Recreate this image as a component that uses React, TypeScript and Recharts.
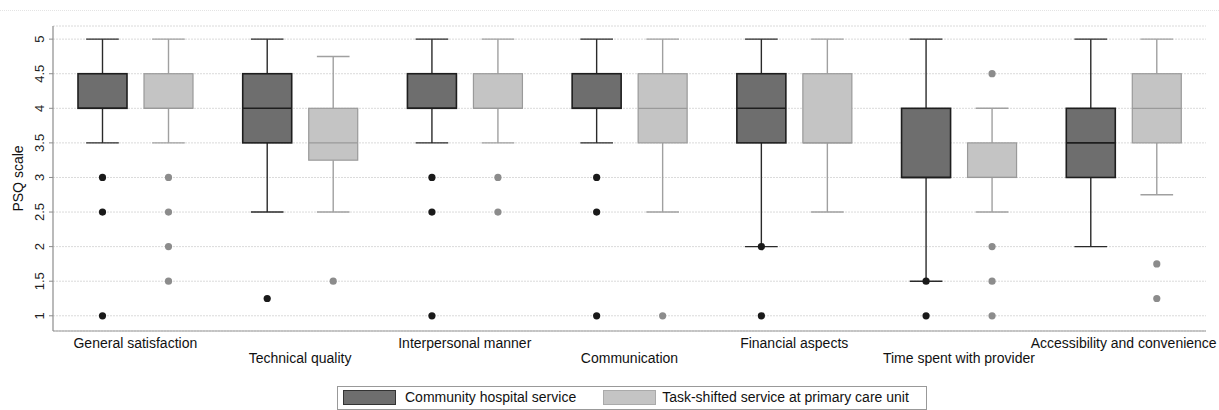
import React from "react";
import { ComposedChart, Bar, XAxis, YAxis, CartesianGrid, Legend } from "recharts";

const categories = [
  "General satisfaction",
  "Technical quality",
  "Interpersonal manner",
  "Communication",
  "Financial aspects",
  "Time spent with provider",
  "Accessibility and convenience",
];

// Community hospital service
const hospitalMin = [3.5, 2.5, 3.5, 3.5, 2, 1.5, 2];
const hospitalQ1 = [4, 3.5, 4, 4, 3.5, 3, 3];
const hospitalMedian = [4, 4, 4, 4, 4, 3, 3.5];
const hospitalQ3 = [4.5, 4.5, 4.5, 4.5, 4.5, 4, 4];
const hospitalMax = [5, 5, 5, 5, 5, 5, 5];
const hospitalOutliers = [[3, 2.5, 1], [1.25], [3, 2.5, 1], [3, 2.5, 1], [2, 1], [1.5, 1], []];

// Task-shifted service at primary care unit
const primaryMin = [3.5, 2.5, 3.5, 2.5, 2.5, 2.5, 2.75];
const primaryQ1 = [4, 3.25, 4, 3.5, 3.5, 3, 3.5];
const primaryMedian = [4, 3.5, 4, 4, 3.5, 3, 4];
const primaryQ3 = [4.5, 4, 4.5, 4.5, 4.5, 3.5, 4.5];
const primaryMax = [5, 4.75, 5, 5, 5, 4, 5];
const primaryOutliers = [[3, 2.5, 2, 1.5], [1.5], [3, 2.5], [1], [], [4.5, 2, 1.5, 1], [1.75, 1.25]];

const yTicks = [1, 1.5, 2, 2.5, 3, 3.5, 4, 4.5, 5];

const FONT = '"Liberation Sans", Arial, sans-serif';

const data = categories.map((name, i) => ({
  name,
  hospital: [hospitalMin[i], hospitalMax[i]],
  hospitalStats: {
    min: hospitalMin[i],
    q1: hospitalQ1[i],
    median: hospitalMedian[i],
    q3: hospitalQ3[i],
    max: hospitalMax[i],
    outliers: hospitalOutliers[i],
  },
  primary: [primaryMin[i], primaryMax[i]],
  primaryStats: {
    min: primaryMin[i],
    q1: primaryQ1[i],
    median: primaryMedian[i],
    q3: primaryQ3[i],
    max: primaryMax[i],
    outliers: primaryOutliers[i],
  },
}));

const styles = {
  hospital: { fill: "#6e6e6e", box: "#1e1e1e", whisker: "#2a2a2a", dot: "#1a1a1a", boxWidth: 1.6 },
  primary: { fill: "#c4c4c4", box: "#9a9a9a", whisker: "#a0a0a0", dot: "#8c8c8c", boxWidth: 1.2 },
};

function makeBoxShape(key: "hospital" | "primary") {
  const st = styles[key];
  return (props: any) => {
    const { x, y, width, height, payload } = props;
    const s = payload[key + "Stats"];
    const per = height / (s.max - s.min);
    const toY = (v: number) => y + (s.max - v) * per;
    const cx = x + width / 2;
    const cap = width / 3;
    return (
      <g>
        <line x1={cx} x2={cx} y1={toY(s.max)} y2={toY(s.q3)} stroke={st.whisker} strokeWidth={1.4} />
        <line x1={cx} x2={cx} y1={toY(s.q1)} y2={toY(s.min)} stroke={st.whisker} strokeWidth={1.4} />
        <line x1={cx - cap} x2={cx + cap} y1={toY(s.max)} y2={toY(s.max)} stroke={st.whisker} strokeWidth={1.4} />
        <line x1={cx - cap} x2={cx + cap} y1={toY(s.min)} y2={toY(s.min)} stroke={st.whisker} strokeWidth={1.4} />
        <rect
          x={x}
          y={toY(s.q3)}
          width={width}
          height={toY(s.q1) - toY(s.q3)}
          fill={st.fill}
          stroke={st.box}
          strokeWidth={st.boxWidth}
        />
        <line x1={x} x2={x + width} y1={toY(s.median)} y2={toY(s.median)} stroke={st.box} strokeWidth={st.boxWidth} />
        {s.outliers.map((v: number, j: number) => (
          <circle key={j} cx={cx} cy={toY(v)} r={3.6} fill={st.dot} />
        ))}
      </g>
    );
  };
}

const CategoryTick = (props: any) => {
  const { x, y, payload, index } = props;
  return (
    <text x={x} y={y + (index % 2 === 0 ? 17 : 32)} textAnchor="middle" fontSize={14} fill="#111" fontFamily={FONT}>
      {payload.value}
    </text>
  );
};

const ValueTick = (props: any) => {
  const { x, y, payload } = props;
  return (
    <text
      x={x - 3}
      y={y}
      textAnchor="middle"
      fontSize={13}
      fill="#222"
      fontFamily={FONT}
      transform={`rotate(-90, ${x - 3}, ${y})`}
    >
      {payload.value}
    </text>
  );
};

const LegendBox = () => (
  <div style={{ paddingTop: 1 }}>
    <div
      style={{
        height: 24,
        boxSizing: "border-box",
        border: "1px solid #999",
        display: "flex",
        alignItems: "center",
        padding: "0 0 2px 5px",
        fontFamily: FONT,
        fontSize: 14,
        color: "#111",
        whiteSpace: "nowrap",
      }}
    >
      <span style={{ width: 51, height: 13, background: styles.hospital.fill, border: "1px solid #333" }} />
      <span style={{ marginLeft: 9 }}>Community hospital service</span>
      <span
        style={{ marginLeft: 27, width: 51, height: 13, background: styles.primary.fill, border: "1px solid #aaa" }}
      />
      <span style={{ marginLeft: 6 }}>Task-shifted service at primary care unit</span>
    </div>
  </div>
);

export default function App() {
  return (
    <div style={{ position: "absolute", left: 0, top: 0, width: 1219, height: 410, fontFamily: FONT }}>
      {/* faint outline of the graph region */}
      <div style={{ position: "absolute", left: 0, top: 10, width: 1219, borderTop: "1px dotted #e4e4e4" }} />
      <ComposedChart
        width={1219}
        height={410}
        data={data}
        margin={{ top: 26, right: 13, left: 0, bottom: 0 }}
        barSize={49}
        barGap={17}
      >
        <CartesianGrid horizontal vertical={false} stroke="#dadada" strokeDasharray="2 1" />
        <XAxis
          dataKey="name"
          type="category"
          interval={0}
          height={54}
          tickLine={false}
          tickSize={0}
          tickMargin={0}
          axisLine={{ stroke: "#9a9a9a", strokeWidth: 1.2 }}
          tick={<CategoryTick />}
        />
        <YAxis
          type="number"
          domain={[0.78, 5.19]}
          ticks={yTicks}
          width={53}
          tickSize={4}
          tickMargin={2}
          axisLine={{ stroke: "#8c8c8c", strokeWidth: 1.2 }}
          tickLine={{ stroke: "#8c8c8c" }}
          tick={<ValueTick />}
          label={({ viewBox }: any) => (
            <text
              x={viewBox.x + 23}
              y={viewBox.y + viewBox.height / 2}
              textAnchor="middle"
              fontSize={14}
              fill="#111"
              fontFamily={FONT}
              transform={`rotate(-90, ${viewBox.x + 23}, ${viewBox.y + viewBox.height / 2})`}
            >
              PSQ scale
            </text>
          )}
        />
        <Legend
          verticalAlign="bottom"
          content={<LegendBox />}
          wrapperStyle={{ left: 337, width: 590, bottom: 0 }}
        />
        <Bar
          dataKey="hospital"
          name="Community hospital service"
          shape={makeBoxShape("hospital")}
          isAnimationActive={false}
        />
        <Bar
          dataKey="primary"
          name="Task-shifted service at primary care unit"
          shape={makeBoxShape("primary")}
          isAnimationActive={false}
        />
      </ComposedChart>
    </div>
  );
}
